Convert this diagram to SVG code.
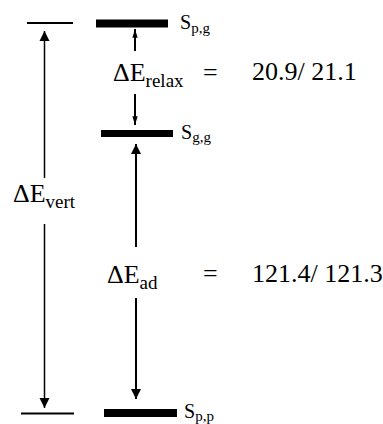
<svg xmlns="http://www.w3.org/2000/svg" width="383" height="424" viewBox="0 0 383 424">
<style>
text{font-family:'Liberation Serif','Times New Roman',serif;fill:#000}
.big{font-size:26px}
.sub{font-size:19px}
.s{font-size:20px}
.ss{font-size:15px}
.thin{stroke:#000;stroke-width:2}
.ln{stroke:#000;fill:none}
</style>
<defs>
<marker id="ah" viewBox="0 0 10 14" refX="10" refY="7" markerWidth="10" markerHeight="14" markerUnits="userSpaceOnUse" orient="auto">
<path d="M0,2 L10,7 L0,12 Z" fill="#000"/>
</marker>
<marker id="ahs" viewBox="0 0 10 8" refX="10" refY="4" markerWidth="11" markerHeight="7" markerUnits="userSpaceOnUse" orient="auto">
<path d="M0,1 L10,4 L0,7 Z" fill="#000"/>
</marker>
</defs>
<rect width="383" height="424" fill="#fff"/>
<g id="level-vert-top"><line class="thin" x1="27" y1="23" x2="73" y2="23"/></g>
<g id="level-vert-bottom"><line class="thin" x1="21" y1="413.5" x2="74" y2="413.5"/></g>
<g id="level-spg">
<rect x="96" y="19.5" width="72" height="8" fill="#000"/>
<text class="s" x="180" y="29">S<tspan class="ss" y="33">p,g</tspan></text>
</g>
<g id="level-sgg">
<rect x="101" y="130" width="72" height="7" fill="#000"/>
<text class="s" x="181" y="139">S<tspan class="ss" y="142">g,g</tspan></text>
</g>
<g id="level-spp">
<rect x="104" y="409" width="73" height="8" fill="#000"/>
<text class="s" x="184" y="418">S<tspan class="ss" y="421">p,p</tspan></text>
</g>
<g id="connectors">
<line class="ln" stroke-width="1.5" x1="44.5" y1="178" x2="44.5" y2="31" marker-end="url(#ah)"/>
<line class="ln" stroke-width="1.5" x1="44.5" y1="224" x2="44.5" y2="408" marker-end="url(#ah)"/>
<line class="ln" stroke-width="2" x1="135" y1="51" x2="135" y2="29" marker-end="url(#ahs)"/>
<line class="ln" stroke-width="2" x1="135" y1="94" x2="135" y2="125" marker-end="url(#ahs)"/>
<line class="ln" stroke-width="2" x1="136" y1="247" x2="136" y2="144" marker-end="url(#ah)"/>
<line class="ln" stroke-width="2" x1="136" y1="298" x2="136" y2="399" marker-end="url(#ah)"/>
</g>
<g id="labels">
<text class="big" x="113" y="81">ΔE<tspan class="sub" y="87">relax</tspan></text>
<text class="big" x="13" y="202">ΔE<tspan class="sub" y="208">vert</tspan></text>
<text class="big" x="107" y="283">ΔE<tspan class="sub" y="289">ad</tspan></text>
<text class="big" x="203" y="81">=</text>
<text class="big" x="203" y="282">=</text>
<text class="big" x="252" y="80">20.9/ 21.1</text>
<text class="big" x="252" y="282">121.4/ 121.3</text>
</g>
</svg>
